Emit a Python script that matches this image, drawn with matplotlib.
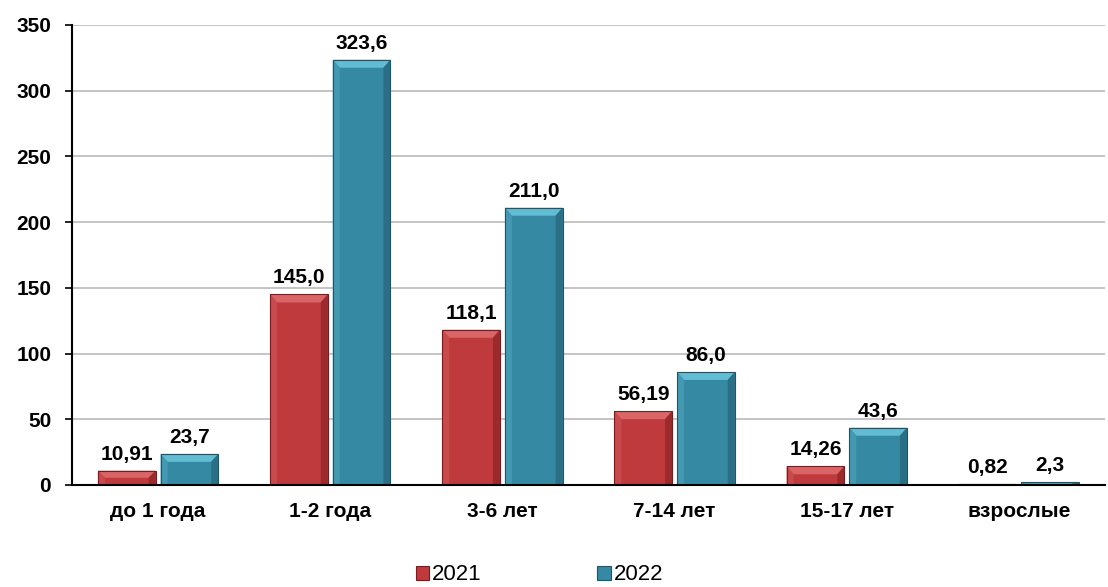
import matplotlib
matplotlib.use("Agg")
import matplotlib.pyplot as plt
from matplotlib.patches import Polygon, Patch
import numpy as np

plt.rcParams['font.family'] = ['Liberation Sans', 'DejaVu Sans']

categories = ["до 1 года", "1-2 года", "3-6 лет", "7-14 лет", "15-17 лет", "взрослые"]
values_2021 = [10.91, 145.0, 118.1, 56.19, 14.26, 0.82]
values_2022 = [23.7, 323.6, 211.0, 86.0, 43.6, 2.3]
labels_2021 = ["10,91", "145,0", "118,1", "56,19", "14,26", "0,82"]
labels_2022 = ["23,7", "323,6", "211,0", "86,0", "43,6", "2,3"]
series_names = ["2021", "2022"]

W, H = 1108, 587
fig = plt.figure(figsize=(W / 100, H / 100), dpi=100)
ax = fig.add_axes([72 / W, 1 - 485 / H, (1105 - 72) / W, (485 - 25) / H])

ymax = 350
xlo, xhi = -0.5, len(categories) - 0.5
ax.set_xlim(xlo, xhi)
ax.set_ylim(0, ymax)

# pixel -> data scale factors for the bevel geometry
ax_w_px = 1105 - 72
ax_h_px = 485 - 25
dx_px = (xhi - xlo) / ax_w_px
dy_px = ymax / ax_h_px

styles = {
    "2021": dict(face="#BF3A3C", top="#DA6466", left="#C84A4C", right="#9A2A2C", edge="#7A1C1E"),
    "2022": dict(face="#3589A3", top="#62BCD4", left="#4398B2", right="#2A6F85", edge="#1F5666"),
}

bar_w = 0.335
offset = 0.182


def bevel_bar(xc, val, st):
    x0, x1 = xc - bar_w / 2, xc + bar_w / 2
    bh = min(8 * dy_px, val / 2)
    bwx = min(7 * dx_px, (x1 - x0) / 2)
    ax.add_patch(Polygon([(x0, 0), (x1, 0), (x1, val), (x0, val)], closed=True,
                         facecolor=st["face"], edgecolor="none", zorder=3))
    # top bevel
    ax.add_patch(Polygon([(x0, val), (x1, val), (x1 - bwx, val - bh), (x0 + bwx, val - bh)],
                         closed=True, facecolor=st["top"], edgecolor="none", zorder=4))
    # left bevel
    ax.add_patch(Polygon([(x0, 0), (x0 + bwx, 0), (x0 + bwx, val - bh), (x0, val)],
                         closed=True, facecolor=st["left"], edgecolor="none", zorder=4))
    # right bevel
    ax.add_patch(Polygon([(x1, 0), (x1 - bwx, 0), (x1 - bwx, val - bh), (x1, val)],
                         closed=True, facecolor=st["right"], edgecolor="none", zorder=4))
    ax.add_patch(Polygon([(x0, 0), (x1, 0), (x1, val), (x0, val)], closed=True,
                         facecolor="none", edgecolor=st["edge"], linewidth=0.8, zorder=5))


x = np.arange(len(categories))
for i in range(len(categories)):
    bevel_bar(x[i] - offset, values_2021[i], styles["2021"])
    bevel_bar(x[i] + offset, values_2022[i], styles["2022"])
    ax.annotate(labels_2021[i], (x[i] - offset, values_2021[i]), xytext=(0, 5),
                textcoords="offset points", ha="center", va="bottom",
                fontsize=15, fontweight="bold", zorder=6)
    ax.annotate(labels_2022[i], (x[i] + offset, values_2022[i]), xytext=(0, 5),
                textcoords="offset points", ha="center", va="bottom",
                fontsize=15, fontweight="bold", zorder=6)

ax.set_yticks(np.arange(0, 351, 50))
ax.set_xticks(x)
ax.set_xticklabels(categories)
ax.yaxis.grid(True, color="#BFBFBF", linewidth=1.3, zorder=0)
ax.set_axisbelow(True)
for lab in ax.get_yticklabels() + ax.get_xticklabels():
    lab.set_fontweight("bold")
    lab.set_fontsize(15)
ax.tick_params(axis="y", direction="out", length=5, width=1.2, pad=10, color="black")
ax.tick_params(axis="x", length=0, pad=12)
for s in ["top", "right"]:
    ax.spines[s].set_visible(False)
ax.spines["left"].set_linewidth(1.5)
ax.spines["bottom"].set_linewidth(1.5)
ax.spines["bottom"].set_zorder(7)

handles = [Patch(facecolor=styles[n]["face"], edgecolor=styles[n]["edge"], linewidth=0.8)
           for n in series_names]
fig.legend(handles, series_names, loc="center", bbox_to_anchor=(0.487, 1 - 575 / H),
           ncol=2, frameon=False, fontsize=16, handlelength=0.6, handleheight=0.6,
           handletextpad=0.15, columnspacing=5.2)

fig.savefig("out.png", dpi=100)
